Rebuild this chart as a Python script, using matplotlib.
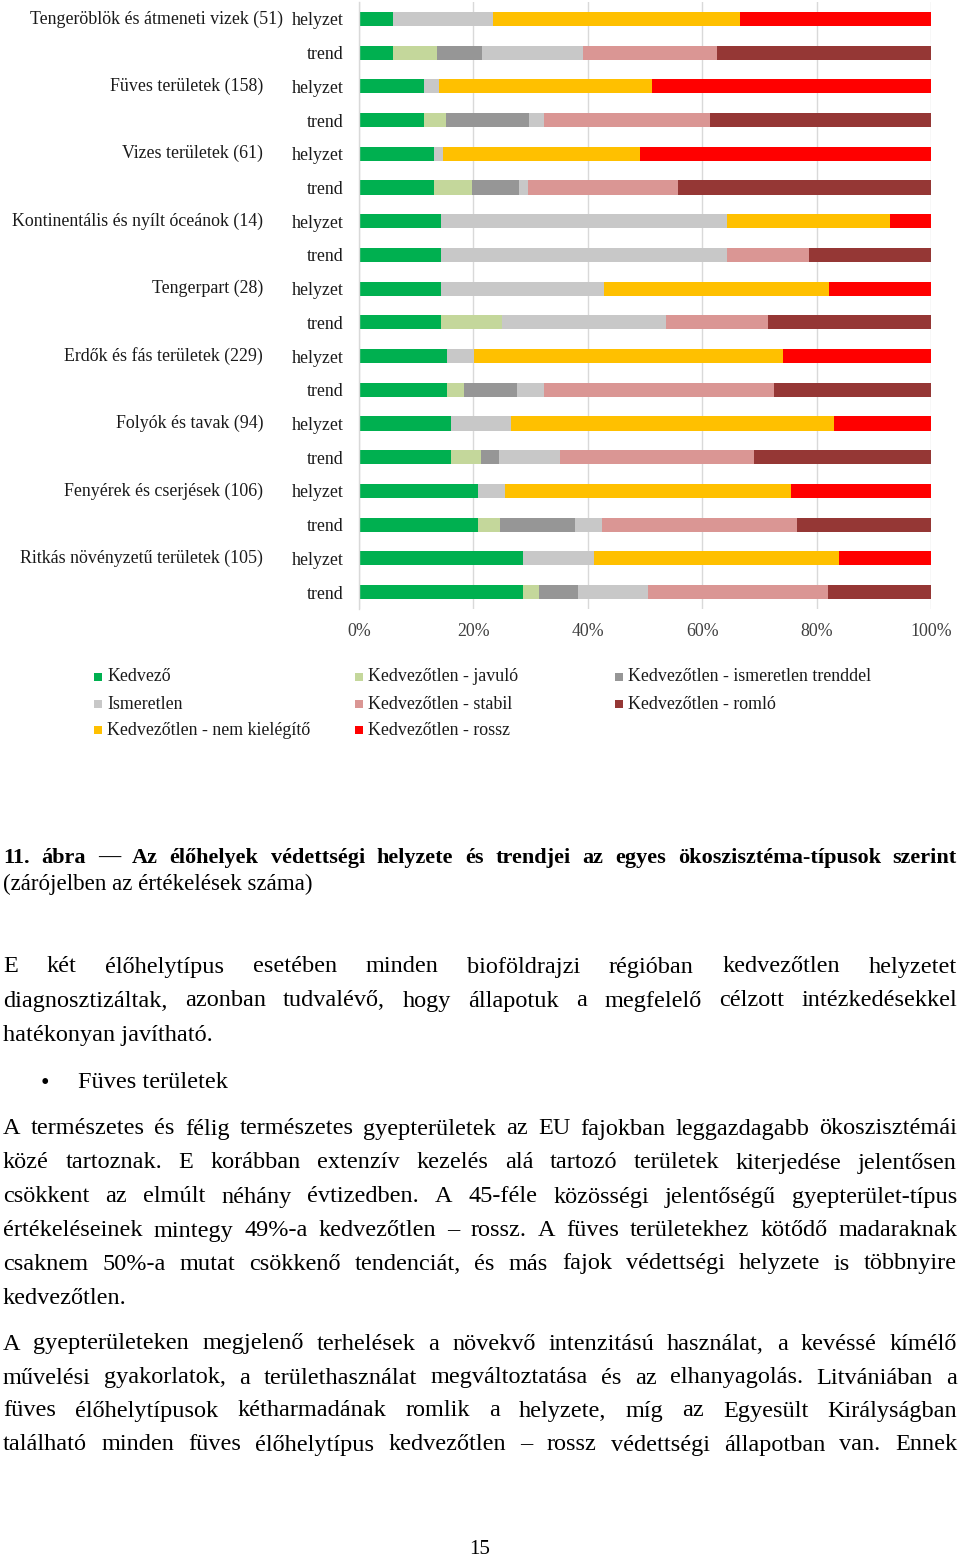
import numpy as np
import matplotlib
matplotlib.use("Agg")
import matplotlib.pyplot as plt
from matplotlib.patches import Rectangle
from matplotlib.transforms import blended_transform_factory

plt.rcParams['font.family'] = ['Liberation Serif', 'DejaVu Serif']

W, H, DPI = 960, 1558, 100

# ---------------- data ----------------
groups = ["Tengeröblök és átmeneti vizek (51)", "Füves területek (158)",
          "Vizes területek (61)", "Kontinentális és nyílt óceánok (14)",
          "Tengerpart (28)", "Erdők és fás területek (229)",
          "Folyók és tavak (94)", "Fenyérek és cserjések (106)",
          "Ritkás növényzetű területek (105)"]
row_kinds = ["helyzet", "trend"]

series_names = ["Kedvező", "Kedvezőtlen - javuló", "Kedvezőtlen - ismeretlen trenddel",
                "Ismeretlen", "Kedvezőtlen - stabil", "Kedvezőtlen - romló",
                "Kedvezőtlen - nem kielégítő", "Kedvezőtlen - rossz"]
series_colors = ["#00B050", "#C4D79B", "#969696", "#C8C8C8",
                 "#DA9694", "#953735", "#FFC000", "#FF0000"]

kedvezo = [5.9, 5.9, 11.4, 11.4, 13.1, 13.1, 14.3, 14.3, 14.3, 14.3,
           15.3, 15.3, 16.0, 16.0, 20.8, 20.8, 28.6, 28.6]
javulo = [0, 7.8, 0, 3.8, 0, 6.6, 0, 0, 0, 10.7, 0, 3.1, 0, 5.3, 0, 3.8, 0, 2.9]
ism_trenddel = [0, 7.8, 0, 14.6, 0, 8.2, 0, 0, 0, 0, 0, 9.2, 0, 3.2, 0, 13.2, 0, 6.7]
ismeretlen = [17.6, 17.6, 2.5, 2.5, 1.6, 1.6, 50.0, 50.0, 28.6, 28.6,
              4.8, 4.8, 10.6, 10.6, 4.7, 4.7, 12.4, 12.4]
stabil = [0, 23.5, 0, 29.1, 0, 26.2, 0, 14.3, 0, 17.9, 0, 40.2, 0, 34.0, 0, 34.0, 0, 31.4]
romlo = [0, 37.4, 0, 38.6, 0, 44.3, 0, 21.4, 0, 28.5, 0, 27.4, 0, 30.9, 0, 23.5, 0, 18.0]
nem_kielegito = [43.1, 0, 37.3, 0, 34.4, 0, 28.6, 0, 39.3, 0, 54.1, 0, 56.4, 0, 50.0, 0, 42.9, 0]
rossz = [33.4, 0, 48.8, 0, 50.9, 0, 7.1, 0, 17.8, 0, 25.8, 0, 17.0, 0, 24.5, 0, 16.1, 0]

series_values = [kedvezo, javulo, ism_trenddel, ismeretlen, stabil, romlo, nem_kielegito, rossz]

x_ticks = [0, 20, 40, 60, 80, 100]
x_tick_labels = ["0%", "20%", "40%", "60%", "80%", "100%"]

caption_bold = "11. ábra — Az élőhelyek védettségi helyzete és trendjei az egyes ökoszisztéma-típusok szerint"
caption_rest = "(zárójelben az értékelések száma)"
para1 = ["E két élőhelytípus esetében minden bioföldrajzi régióban kedvezőtlen helyzetet",
         "diagnosztizáltak, azonban tudvalévő, hogy állapotuk a megfelelő célzott intézkedésekkel",
         "hatékonyan javítható."]
bullet_text = "Füves területek"
para2 = ["A természetes és félig természetes gyepterületek az EU fajokban leggazdagabb ökoszisztémái",
         "közé tartoznak. E korábban extenzív kezelés alá tartozó területek kiterjedése jelentősen",
         "csökkent az elmúlt néhány évtizedben. A 45-féle közösségi jelentőségű gyepterület-típus",
         "értékeléseinek mintegy 49%-a kedvezőtlen – rossz. A füves területekhez kötődő madaraknak",
         "csaknem 50%-a mutat csökkenő tendenciát, és más fajok védettségi helyzete is többnyire",
         "kedvezőtlen."]
para3 = ["A gyepterületeken megjelenő terhelések a növekvő intenzitású használat, a kevéssé kímélő",
         "művelési gyakorlatok, a területhasználat megváltoztatása és az elhanyagolás. Litvániában a",
         "füves élőhelytípusok kétharmadának romlik a helyzete, míg az Egyesült Királyságban",
         "található minden füves élőhelytípus kedvezőtlen – rossz védettségi állapotban van. Ennek"]
page_number = "15"

# ---------------- figure ----------------
fig = plt.figure(figsize=(W / DPI, H / DPI), dpi=DPI)
fig.patch.set_facecolor("white")

def fx(px):
    return px / W

def fy(py):
    return 1 - py / H

ax_left, ax_right, ax_top, ax_bottom = 359, 931, 2, 609
ax = fig.add_axes([fx(ax_left), fy(ax_bottom), (ax_right - ax_left) / W, (ax_bottom - ax_top) / H])

n_rows = len(kedvezo)
ypos = np.arange(n_rows)
left = np.zeros(n_rows)
for name, vals, col in zip(series_names, series_values, series_colors):
    v = np.array(vals, dtype=float)
    ax.barh(ypos, v, left=left, height=0.42, color=col, edgecolor="none", label=name, zorder=2)
    left += v

CH_FS = 12.9
ax.set_xlim(0, 100)
ax.set_ylim(n_rows - 0.5, -0.5)
ax.set_xticks(x_ticks)
ax.set_xticklabels(x_tick_labels, fontsize=CH_FS, color="#404040")
ax.xaxis.grid(True, color="#D9D9D9", lw=1.0, zorder=0)
ax.set_axisbelow(True)
ax.tick_params(axis="x", length=0, pad=10)
for s in ["top", "right", "bottom"]:
    ax.spines[s].set_visible(False)
ax.spines["left"].set_color("#D9D9D9")
ax.spines["left"].set_linewidth(1.0)

row_labels = [row_kinds[i % 2] for i in range(n_rows)]
ax.set_yticks(ypos)
ax.set_yticklabels(row_labels, fontsize=CH_FS, color="#1a1a1a")
ax.tick_params(axis="y", length=0, pad=11)

trans = blended_transform_factory(fig.transFigure, ax.transData)
for gi, g in enumerate(groups):
    xr = 283 if gi == 0 else 263
    ax.text(fx(xr), gi * 2, g, transform=trans, ha="right", va="center",
            fontsize=CH_FS, color="#1a1a1a")

# ---------------- legend (Excel-like grid) ----------------
legend_cols_x = [94, 355, 615]
legend_rows_y = [677, 704, 730]
legend_layout = [
    (0, 0, 0), (1, 0, 1), (2, 0, 2),
    (3, 1, 0), (4, 1, 1), (5, 1, 2),
    (6, 2, 0), (7, 2, 1),
]
sq = 8
for si, r, c in legend_layout:
    x = legend_cols_x[c]
    y = legend_rows_y[r]
    fig.add_artist(Rectangle((fx(x), fy(y + sq / 2)), sq / W, sq / H,
                             transform=fig.transFigure, color=series_colors[si], lw=0))
    fig.text(fx(x + sq + 5), fy(y), series_names[si], fontsize=CH_FS, ha="left",
             va="center", color="#1a1a1a")

# ---------------- text block ----------------
renderer = fig.canvas.get_renderer()

def measure(s, fs, weight="normal"):
    t = fig.text(0, 0, s, fontsize=fs, fontweight=weight)
    w = t.get_window_extent(renderer).width
    t.remove()
    return w

X0, X1 = 3, 957
DY = 2

def fit_size(lines, cap, weight="normal", min_space=0.17):
    fs = cap
    for ln in lines:
        words = ln.split(" ")
        while True:
            tot = sum(measure(w, fs, weight) for w in words) + (len(words) - 1) * min_space * fs * DPI / 72
            if tot <= (X1 - X0) or fs < 8:
                break
            fs -= 0.25
    return fs

def justify(line, y, fs, weight="normal"):
    words = line.split(" ")
    widths = [measure(w, fs, weight) for w in words]
    gap = (X1 - X0 - sum(widths)) / (len(words) - 1)
    x = X0
    for w, wd in zip(words, widths):
        fig.text(fx(x), fy(y + DY), w, fontsize=fs, fontweight=weight, ha="left", va="center",
                 color="black")
        x += wd + gap

def left_text(line, y, fs, x=X0, weight="normal"):
    fig.text(fx(x), fy(y + DY), line, fontsize=fs, fontweight=weight, ha="left", va="center",
             color="black")

cap_fs = fit_size([caption_bold], 16.0, "bold", 0.15)
justify(caption_bold, 856, cap_fs, "bold")
left_text(caption_rest, 882, cap_fs + 0.6)

body_justified = para1[:2] + para2[:5] + para3
body_fs = fit_size(body_justified, 17.5)

p1_y = [965, 999, 1033]
for i, ln in enumerate(para1):
    if i < len(para1) - 1:
        justify(ln, p1_y[i], body_fs)
    else:
        left_text(ln, p1_y[i], body_fs)

fig.text(fx(45), fy(1081 + DY), "•", fontsize=body_fs, ha="center", va="center", color="black")
left_text(bullet_text, 1081, body_fs, x=78)

p2_y = [1127, 1161, 1195, 1229, 1262, 1296]
for i, ln in enumerate(para2):
    if i < len(para2) - 1:
        justify(ln, p2_y[i], body_fs)
    else:
        left_text(ln, p2_y[i], body_fs)

p3_y = [1342, 1376, 1409, 1443]
for i, ln in enumerate(para3):
    justify(ln, p3_y[i], body_fs)

fig.text(fx(480), fy(1550), page_number, fontsize=15, ha="center", va="center", color="black")

fig.savefig("out.png", dpi=DPI, facecolor="white")
